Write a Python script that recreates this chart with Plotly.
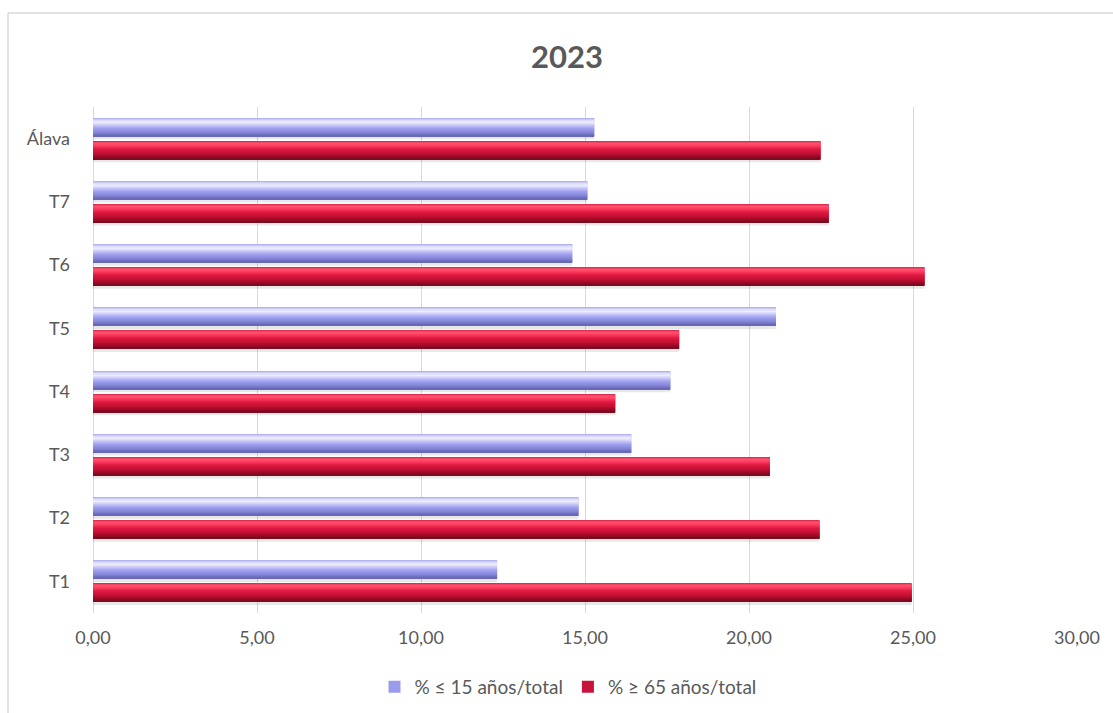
import plotly.graph_objects as go

# ---- data -------------------------------------------------------------
categories = ["T1", "T2", "T3", "T4", "T5", "T6", "T7", "Álava"]
pct_le15 = [12.32, 14.80, 16.41, 17.60, 20.82, 14.61, 15.07, 15.28]
pct_ge65 = [24.96, 22.15, 20.64, 15.92, 17.87, 25.35, 22.43, 22.18]
series_names = ["% ≤ 15 años/total", "% ≥ 65 años/total"]
x_ticks = [0, 5, 10, 15, 20, 25, 30]
title_text = "2023"

# ---- geometry ---------------------------------------------------------
W, H = 1113, 713
ML, MR, MT, MB = 93, 36, 107, 100
plot_w = W - ML - MR
plot_h = H - MT - MB
cat_px = plot_h / len(categories)

TEXT = "#595959"
GRID = "#d9d9d9"
FONT = "Lato"

# bar extent in pixels relative to the category centre (upwards positive)
BAR_H = 18
bars = [
    # (values, name, top px, legend colour, gradient stops top -> bottom)
    (pct_le15, series_names[0], 20.5, "#9b9bee", [
        (0.00, "#a6a6ef"),
        (0.12, "#dadafb"),
        (0.25, "#ececfe"),
        (0.42, "#c2c2f6"),
        (0.60, "#9c9cee"),
        (0.80, "#8686da"),
        (1.00, "#6363b0"),
    ]),
    (pct_ge65, series_names[1], -2.5, "#c8143a", [
        (0.00, "#d42446"),
        (0.12, "#ff5272"),
        (0.25, "#ff3e5f"),
        (0.45, "#e01a42"),
        (0.70, "#c10f33"),
        (0.85, "#a00a28"),
        (1.00, "#760a1d"),
    ]),
]


def hex_rgb(h):
    h = h.lstrip("#")
    return [int(h[i:i + 2], 16) for i in (0, 2, 4)]


def shade(stops, t):
    for (t0, c0), (t1, c1) in zip(stops, stops[1:]):
        if t0 <= t <= t1:
            f = (t - t0) / (t1 - t0)
            a, b = hex_rgb(c0), hex_rgb(c1)
            r, g, bl = (round(a[i] + (b[i] - a[i]) * f) for i in range(3))
            return f"rgb({r},{g},{bl})"
    return stops[-1][1]


def span(top_px, bot_px):
    return dict(offset=bot_px / cat_px, width=(top_px - bot_px) / cat_px)


fig = go.Figure()

# soft drop shadow under each bar
for values, name, top, col, stops in bars:
    bot = top - BAR_H
    fig.add_trace(go.Bar(
        y=categories, x=values, orientation="h",
        marker=dict(color="rgba(0,0,0,0.09)", line=dict(width=0)),
        showlegend=False, hoverinfo="skip", **span(bot + 1, bot - 3)))

# base bars (carry the legend entries)
for rank, (values, name, top, col, stops) in enumerate(bars, start=1):
    fig.add_trace(go.Bar(
        y=categories, x=values, orientation="h", name=name,
        marker=dict(color=col, line=dict(width=0)),
        legendrank=rank,
        hovertemplate="%{y}: %{x:.2f}<extra>" + name + "</extra>",
        **span(top, top - BAR_H)))

# cylindrical shading, one pixel row at a time
for values, name, top, col, stops in bars:
    for k in range(BAR_H):
        c = shade(stops, (k + 0.5) / BAR_H)
        fig.add_trace(go.Bar(
            y=categories, x=values, orientation="h",
            marker=dict(color=c, line=dict(width=0)),
            showlegend=False, hoverinfo="skip",
            **span(top - k, top - k - 1.05)))


def px_x(px):
    return (px - ML) / plot_w


def px_y(py):
    return (H - MB - py) / plot_h


# chart frame (top and left edges)
frame = dict(type="line", xref="paper", yref="paper", layer="below",
             line=dict(color="#d9d9d9", width=1.5))
fig.add_shape(x0=px_x(8), x1=px_x(W), y0=px_y(13), y1=px_y(13), **frame)
fig.add_shape(x0=px_x(8), x1=px_x(8), y0=px_y(13), y1=px_y(H), **frame)

fig.update_layout(
    width=W, height=H,
    margin=dict(l=ML, r=MR, t=MT, b=MB, autoexpand=False),
    paper_bgcolor="white", plot_bgcolor="white",
    barmode="overlay",
    separators=",.",
    font=dict(family=FONT, color=TEXT, size=18),
    title=dict(text=title_text, x=567 / W, xanchor="center",
               y=1 - 57 / H, yanchor="middle", xref="container",
               yref="container",
               font=dict(family=FONT, size=31, color=TEXT, weight="bold")),
    xaxis=dict(range=[0, 30], tickvals=x_ticks, tickformat=".2f",
               showgrid=True, gridcolor=GRID, gridwidth=1,
               zeroline=True, zerolinecolor=GRID, zerolinewidth=1,
               showline=False, ticks="", ticklabelstandoff=12,
               tickfont=dict(size=18, color=TEXT)),
    yaxis=dict(type="category", categoryorder="array",
               categoryarray=categories, range=[-0.5, len(categories) - 0.5],
               showgrid=False, zeroline=False, showline=False, ticks="",
               ticklabelstandoff=22, tickfont=dict(size=18, color=TEXT)),
    legend=dict(orientation="h", x=px_x(568), xanchor="center",
                y=px_y(687), yanchor="middle",
                font=dict(size=19, color=TEXT), itemwidth=30,
                bgcolor="rgba(0,0,0,0)"),
)

fig.write_html("out.html")
